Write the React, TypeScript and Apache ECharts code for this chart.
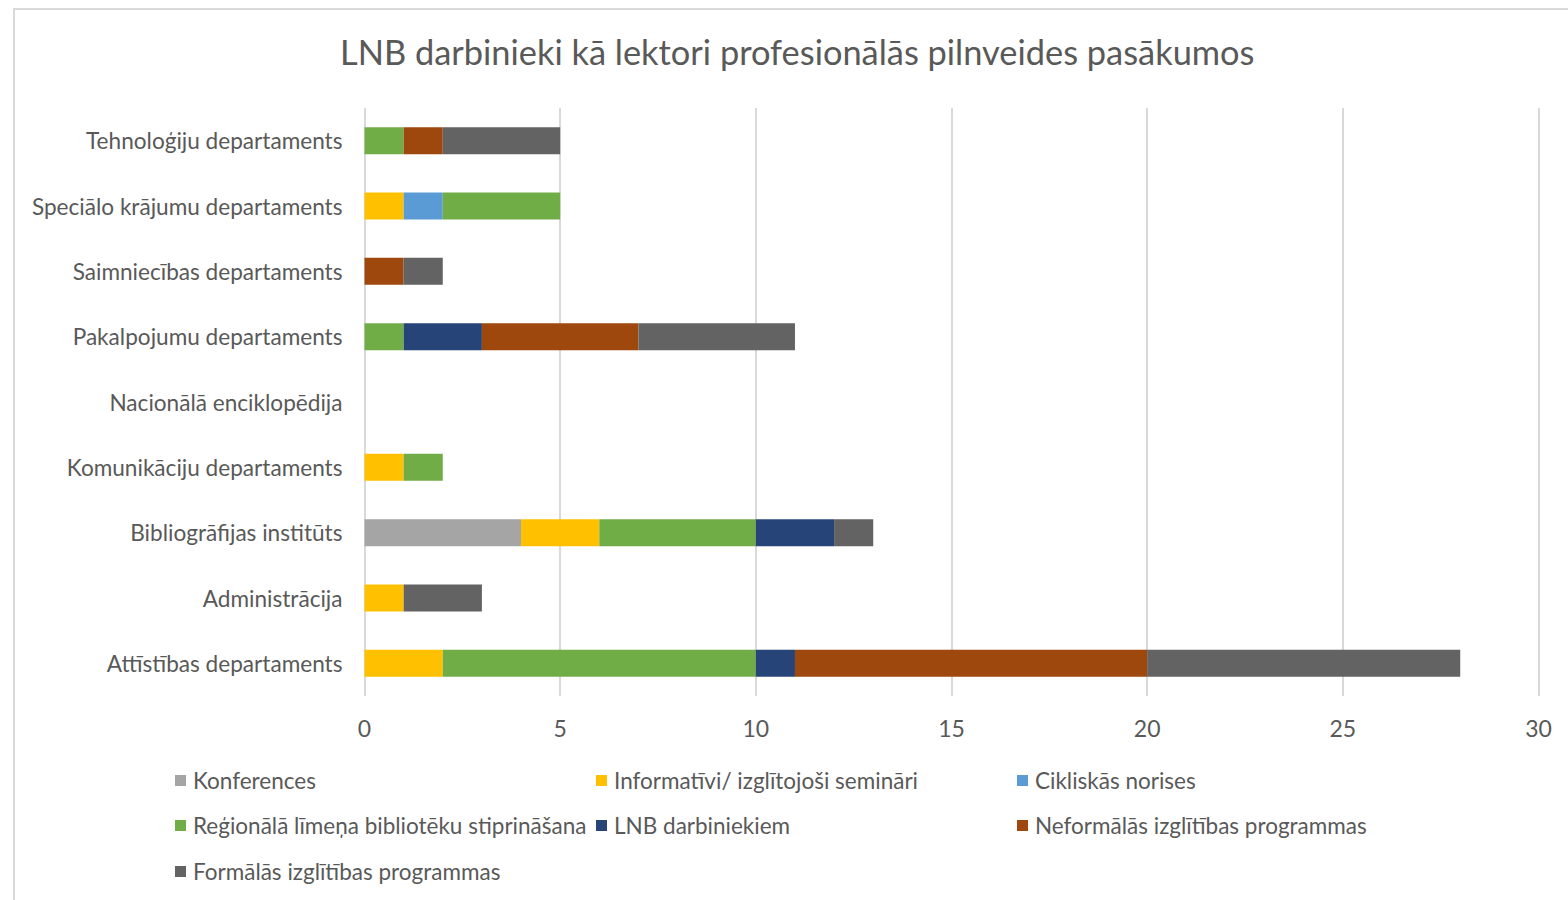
import React, { useEffect, useRef } from "react";
import * as echarts from "echarts";

const categories = [
  "Attīstības departaments",
  "Administrācija",
  "Bibliogrāfijas institūts",
  "Komunikāciju departaments",
  "Nacionālā enciklopēdija",
  "Pakalpojumu departaments",
  "Saimniecības departaments",
  "Speciālo krājumu departaments",
  "Tehnoloģiju departaments",
];

const seriesNames = [
  "Konferences",
  "Informatīvi/ izglītojoši semināri",
  "Cikliskās norises",
  "Reģionālā līmeņa bibliotēku stiprināšana",
  "LNB darbiniekiem",
  "Neformālās izglītības programmas",
  "Formālās izglītības programmas",
];

const seriesColors = ["#A5A5A5", "#FFC000", "#5B9BD5", "#70AD47", "#264478", "#9E480E", "#636363"];

const konferences = [0, 0, 4, 0, 0, 0, 0, 0, 0];
const informativi = [2, 1, 2, 1, 0, 0, 0, 1, 0];
const cikliskas = [0, 0, 0, 0, 0, 0, 0, 1, 0];
const regionala = [8, 0, 4, 1, 0, 1, 0, 3, 1];
const lnbDarbiniekiem = [1, 0, 2, 0, 0, 2, 0, 0, 0];
const neformalas = [9, 0, 0, 0, 0, 4, 1, 0, 1];
const formalas = [8, 2, 1, 0, 0, 4, 1, 0, 3];

const seriesValues = [konferences, informativi, cikliskas, regionala, lnbDarbiniekiem, neformalas, formalas];

const xTicks = [0, 5, 10, 15, 20, 25, 30];

const legendPositions = [
  [175, 769],
  [596, 769],
  [1017, 769],
  [175, 814],
  [596, 814],
  [1017, 814],
  [175, 860],
];

const FONT = "Lato, 'Open Sans', sans-serif";
const TEXT = "#595959";

export default function App() {
  const ref = useRef<HTMLDivElement>(null);
  useEffect(() => {
    if (!ref.current) return;
    const chart = echarts.init(ref.current, undefined, { renderer: "svg" });
    chart.setOption({
      animation: false,
      backgroundColor: "#fff",
      textStyle: { fontFamily: FONT },
      title: {
        text: "LNB darbinieki kā lektori profesionālās pilnveides pasākumos",
        left: 340,
        top: 34,
        padding: 0,
        textStyle: { fontFamily: FONT, fontSize: 34.4, fontWeight: "normal", color: TEXT },
      },
      graphic: [
        {
          type: "rect",
          shape: { x: 14, y: 9, width: 1600, height: 1000 },
          style: { fill: "none", stroke: "#D9D9D9", lineWidth: 2 },
          silent: true,
          z: -1,
        },
      ],
      legend: seriesNames.map((name, i) => ({
        data: [name],
        left: legendPositions[i][0],
        top: legendPositions[i][1],
        padding: 0,
        icon: "rect",
        itemWidth: 11,
        itemHeight: 11,
        itemGap: 0,
        textStyle: { fontFamily: FONT, fontSize: 22.5, color: TEXT, padding: [0, 0, 0, 2] },
        selectedMode: false,
      })),
      grid: { left: 364.5, right: 29.5, top: 108, bottom: 204, containLabel: false },
      xAxis: {
        type: "value",
        min: xTicks[0],
        max: xTicks[xTicks.length - 1],
        interval: 5,
        axisLine: { show: false },
        axisTick: { show: false },
        axisLabel: { fontFamily: FONT, fontSize: 23, color: TEXT, margin: 20 },
        splitLine: { show: true, lineStyle: { color: "#D9D9D9", width: 2 } },
      },
      yAxis: {
        type: "category",
        data: categories,
        axisLine: { show: false },
        axisTick: { show: false },
        axisLabel: { fontFamily: FONT, fontSize: 22.6, color: TEXT, margin: 22 },
      },
      series: seriesNames.map((name, i) => ({
        name,
        type: "bar",
        stack: "total",
        data: seriesValues[i],
        barWidth: 27,
        itemStyle: { color: seriesColors[i] },
        emphasis: { disabled: true },
      })),
    });
    return () => chart.dispose();
  }, []);
  return (
    <div
      ref={ref}
      style={{ position: "fixed", left: 0, top: 0, width: 1568, height: 900 }}
    />
  );
}
